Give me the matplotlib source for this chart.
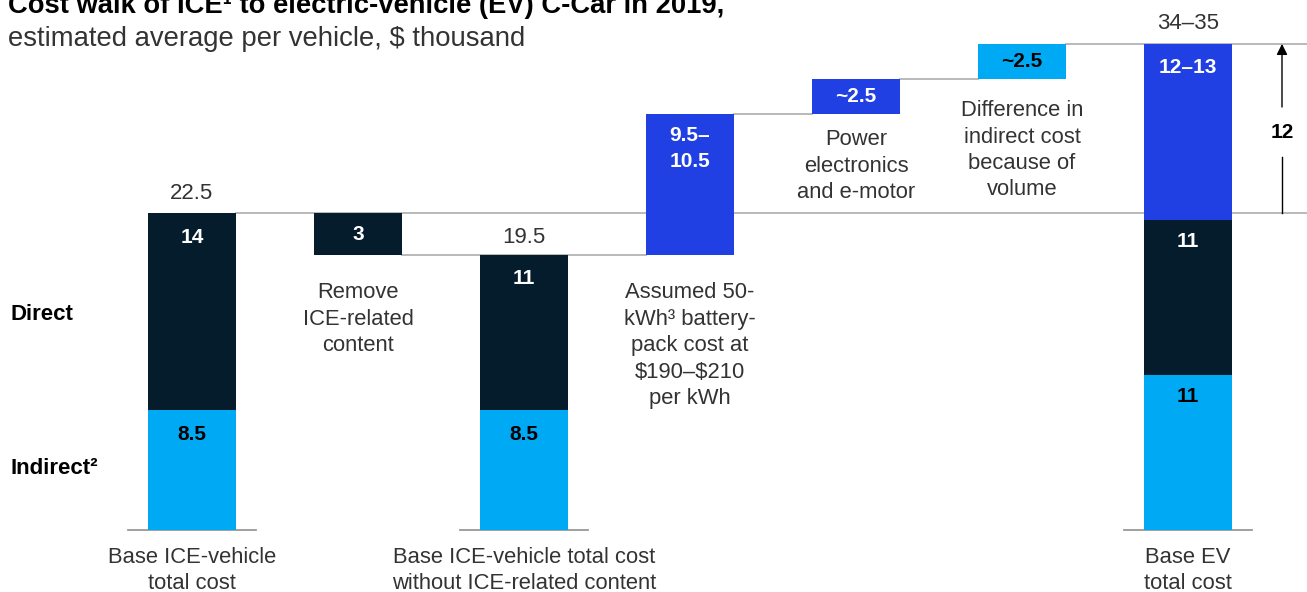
import matplotlib
matplotlib.use("Agg")
import matplotlib.pyplot as plt

plt.rcParams['font.family'] = ['Liberation Sans', 'DejaVu Sans']

# ---- data ($ thousand per vehicle) ----
steps = ["Base ICE-vehicle\ntotal cost",
         "Remove\nICE-related\ncontent",
         "Base ICE-vehicle total cost\nwithout ICE-related content",
         "Assumed 50-\nkWh³ battery-\npack cost at\n\\$190–\\$210\nper kWh",
         "Power\nelectronics\nand e-motor",
         "Difference in\nindirect cost\nbecause of\nvolume",
         "Base EV\ntotal cost"]

ice_indirect = 8.5
ice_direct = 14
ice_content_removed = 3
battery_pack = 10          # shown as 9.5–10.5
power_electronics = 2.5
indirect_volume_diff = 2.5
ev_indirect = 11
ev_direct = 11
ev_powertrain = 12.5       # shown as 12–13

battery_label = "9.5–\n10.5"
ev_powertrain_label = "12–13"
ev_total_label = "34–35"

# ---- style ----
NAVY = "#051C2C"
BLUE = "#2140E3"
CYAN = "#00A9F4"
GREY_LINE = "#B3B3B3"
TEXT_GREY = "#333333"

W, H = 1307, 592
fig = plt.figure(figsize=(W / 100, H / 100), dpi=100)
ax = fig.add_axes([0, 0, 1, 1])

px_per_unit = 14.09
x0_px, step_px = 192, 166
base_px = 530
ax.set_xlim(-x0_px / step_px, (W - x0_px) / step_px)
ax.set_ylim(-(H - base_px) / px_per_unit, base_px / px_per_unit)
ax.axis("off")

def u(px):
    """pixel distance -> data units (vertical)"""
    return px / px_per_unit

bw = 88 / step_px
half = bw / 2
xs = list(range(len(steps)))

ice_total = ice_indirect + ice_direct
mid_direct = ice_direct - ice_content_removed
mid_total = ice_indirect + mid_direct
lvl_battery = mid_total + battery_pack
lvl_power = lvl_battery + power_electronics
lvl_final = lvl_power + indirect_volume_diff
ev_total = ev_indirect + ev_direct + ev_powertrain

# connector lines
lw_line = 1.3
ax.plot([xs[0] + half, ax.get_xlim()[1]], [ice_total] * 2, color=GREY_LINE, lw=lw_line, zorder=1)
ax.plot([xs[1] + half, xs[3] - half], [mid_total] * 2, color=GREY_LINE, lw=lw_line, zorder=1)
ax.plot([xs[3] + half, xs[4] - half], [lvl_battery] * 2, color=GREY_LINE, lw=lw_line, zorder=1)
ax.plot([xs[4] + half, xs[5] - half], [lvl_power] * 2, color=GREY_LINE, lw=lw_line, zorder=1)
ax.plot([xs[5] + half, ax.get_xlim()[1]], [lvl_final] * 2, color=GREY_LINE, lw=lw_line, zorder=1)

# baselines under the total bars
ext = 20 / step_px
for i in (0, 2, 6):
    ax.plot([xs[i] - half - ext, xs[i] + half + ext], [0, 0], color="#999999", lw=lw_line, zorder=1)

# bars
ax.bar(xs[0], ice_indirect, bw, color=CYAN, zorder=2)
ax.bar(xs[0], ice_direct, bw, bottom=ice_indirect, color=NAVY, zorder=2)
ax.bar(xs[1], ice_content_removed, bw, bottom=mid_total, color=NAVY, zorder=2)
ax.bar(xs[2], ice_indirect, bw, color=CYAN, zorder=2)
ax.bar(xs[2], mid_direct, bw, bottom=ice_indirect, color=NAVY, zorder=2)
ax.bar(xs[3], battery_pack, bw, bottom=mid_total, color=BLUE, zorder=2)
ax.bar(xs[4], power_electronics, bw, bottom=lvl_battery, color=BLUE, zorder=2)
ax.bar(xs[5], indirect_volume_diff, bw, bottom=lvl_power, color=CYAN, zorder=2)
ax.bar(xs[6], ev_indirect, bw, color=CYAN, zorder=2)
ax.bar(xs[6], ev_direct, bw, bottom=ev_indirect, color=NAVY, zorder=2)
ax.bar(xs[6], ev_powertrain, bw, bottom=ev_indirect + ev_direct, color=BLUE, zorder=2)

def fmt(v):
    return f"{v:g}"

lab_fs = 15
def in_bar(x, y, s, color):
    ax.text(x, y, s, ha="center", va="center", fontsize=lab_fs, fontweight="bold",
            color=color, zorder=3, linespacing=1.45)

# labels inside bars (near the top of each segment)
in_bar(xs[0], ice_total - u(25), fmt(ice_direct), "white")
in_bar(xs[0], ice_indirect - u(24), fmt(ice_indirect), "black")
in_bar(xs[1], mid_total + ice_content_removed / 2, fmt(ice_content_removed), "white")
in_bar(xs[2], mid_total - u(23), fmt(mid_direct), "white")
in_bar(xs[2], ice_indirect - u(24), fmt(ice_indirect), "black")
in_bar(xs[3], lvl_battery - u(34), battery_label, "white")
in_bar(xs[4], lvl_battery + power_electronics / 2, "~" + fmt(power_electronics), "white")
in_bar(xs[5], lvl_power + indirect_volume_diff / 2, "~" + fmt(indirect_volume_diff), "black")
in_bar(xs[6], ev_total - u(24), ev_powertrain_label, "white")
in_bar(xs[6], ev_indirect + ev_direct - u(21), fmt(ev_direct), "white")
in_bar(xs[6], ev_indirect - u(21), fmt(ev_indirect), "black")

# totals above bars
tot_fs = 16
ax.text(xs[0], ice_total + u(19), fmt(ice_total), ha="center", va="center", fontsize=tot_fs, color=TEXT_GREY)
ax.text(xs[2], mid_total + u(18), fmt(mid_total), ha="center", va="center", fontsize=tot_fs, color=TEXT_GREY)
ax.text(xs[6], ev_total + u(20), ev_total_label, ha="center", va="center", fontsize=tot_fs, color=TEXT_GREY)

# step descriptions under floating bars
desc_fs = 15.8
ls = 1.34
ax.text(xs[1], mid_total - u(27), steps[1], ha="center", va="top", fontsize=desc_fs, color=TEXT_GREY, linespacing=ls)
ax.text(xs[3], mid_total - u(27), steps[3], ha="center", va="top", fontsize=desc_fs, color=TEXT_GREY, linespacing=ls)
ax.text(xs[4], lvl_battery - u(15), steps[4], ha="center", va="top", fontsize=desc_fs, color=TEXT_GREY, linespacing=ls)
ax.text(xs[5], lvl_power - u(21), steps[5], ha="center", va="top", fontsize=desc_fs, color=TEXT_GREY, linespacing=ls)

# category labels under total bars
for i in (0, 2, 6):
    ax.text(xs[i], -u(17), steps[i], ha="center", va="top", fontsize=desc_fs, color=TEXT_GREY, linespacing=ls)

# row labels
ax.text(10 / step_px + ax.get_xlim()[0], u(base_px - 314), "Direct", ha="left", va="center",
        fontsize=16, fontweight="bold", color="black")
ax.text(10 / step_px + ax.get_xlim()[0], u(base_px - 469), "Indirect²", ha="left", va="center",
        fontsize=16, fontweight="bold", color="black")

# bracket showing the ICE-to-EV difference
xa = (1282 - x0_px) / step_px
diff = ev_total - ice_total
label_y = u(base_px - 133)
ax.plot([xa, xa], [ice_total, label_y - u(24)], color="black", lw=1, zorder=2)
ax.annotate("", xy=(xa, ev_total), xytext=(xa, label_y + u(26)),
            arrowprops=dict(arrowstyle="-|>", color="black", lw=1, mutation_scale=16,
                            shrinkA=0, shrinkB=0))
ax.text(xa, label_y, fmt(diff), ha="center", va="center", fontsize=15, fontweight="bold", color="black")

# title block
fig.text(8 / W, 1 - 13 / H, "Cost walk of ICE¹ to electric-vehicle (EV) C-Car in 2019,",
         ha="left", va="baseline", fontsize=19.7, fontweight="bold", color="black")
fig.text(8 / W, 1 - 46 / H, "estimated average per vehicle, \\$ thousand",
         ha="left", va="baseline", fontsize=19.8, color=TEXT_GREY)

fig.savefig("out.png", dpi=100)
